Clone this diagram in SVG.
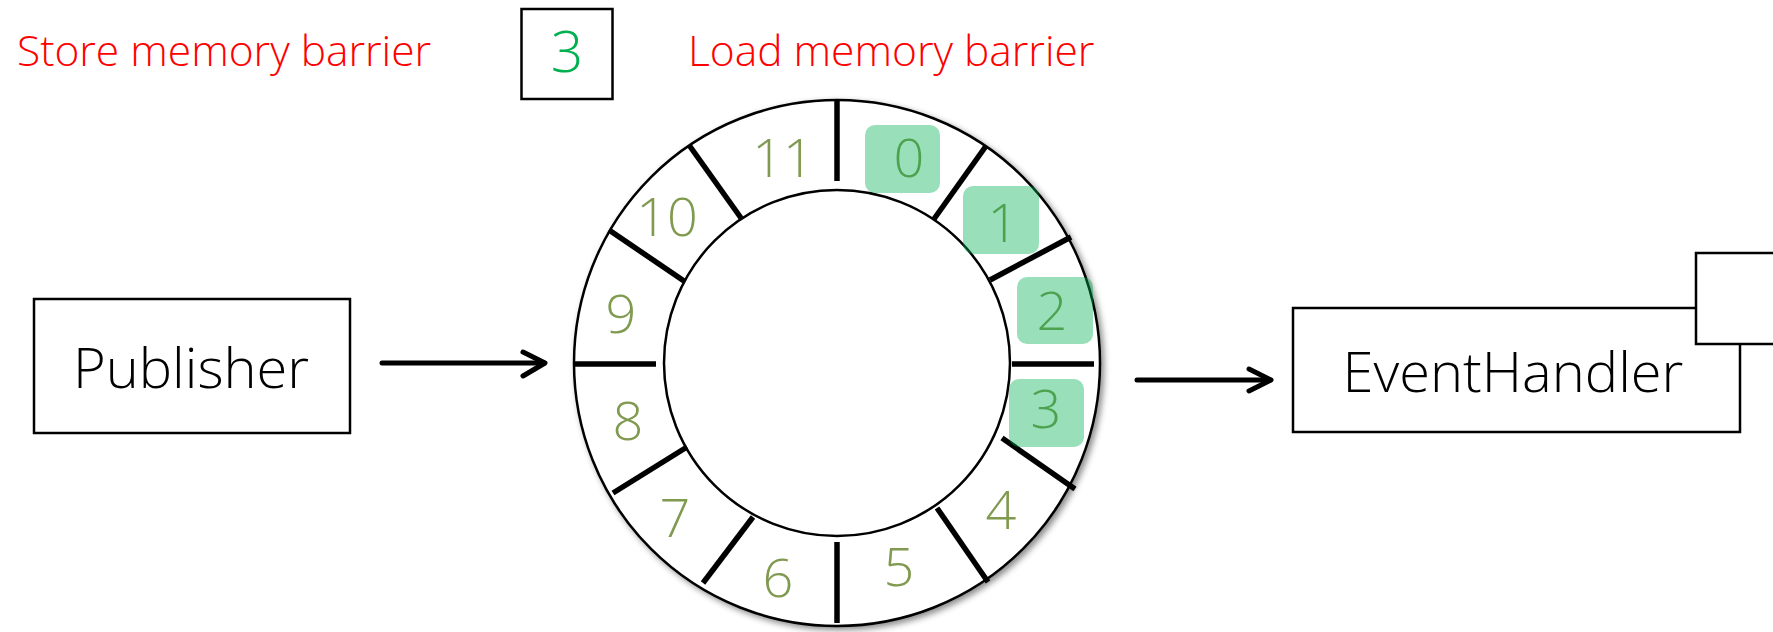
<svg xmlns="http://www.w3.org/2000/svg" width="1773" height="632" viewBox="0 0 1773 632">
  <style>
    .label { font-family: "Open Sans", "Liberation Sans", sans-serif; font-weight: 300; }
    .red { fill: #ff0000; font-size: 42.5px; }
    .box { fill: #ffffff; stroke: #000000; stroke-width: 2.5; }
    .name { font-size: 56px; fill: #000000; text-anchor: middle; }
    .slot { font-size: 54px; fill: #809a4f; text-anchor: middle; }
    .tick { stroke: #000000; stroke-width: 5.5; }
    .mark { fill: #00b050; fill-opacity: 0.4; }
    .arrow { fill: none; stroke: #000000; stroke-width: 5; stroke-linecap: round; stroke-linejoin: round; }
  </style>
  <defs>
    <filter id="ringShadow" x="-10%" y="-10%" width="125%" height="125%">
      <feDropShadow dx="3" dy="3" stdDeviation="3" flood-color="#000000" flood-opacity="0.45"/>
    </filter>
  </defs>

  <rect width="1773" height="632" fill="#ffffff"/>

  <!-- barrier captions -->
  <g id="store-barrier">
    <text class="label red" x="17" y="66">Store memory barrier</text>
  </g>
  <g id="load-barrier">
    <text class="label red" x="688" y="66">Load memory barrier</text>
  </g>

  <!-- sequence value box -->
  <g id="sequence">
    <rect class="box" x="521.5" y="9" width="91" height="90"/>
    <text class="label" x="567" y="72" font-size="57" fill="#00b050" text-anchor="middle">3</text>
  </g>

  <!-- publisher -->
  <g id="publisher">
    <rect class="box" x="34" y="299" width="316" height="134"/>
    <text class="label name" x="191" y="388">Publisher</text>
  </g>

  <!-- ring buffer -->
  <g id="ring-buffer">
    <circle cx="837" cy="363" r="263" fill="#ffffff" stroke="#000000" stroke-width="2.5" filter="url(#ringShadow)"/>
    <circle cx="837" cy="363" r="173" fill="#ffffff" stroke="#000000" stroke-width="2.5"/>
    <g id="slot-dividers">
      <line class="tick" x1="837" y1="99" x2="837" y2="181"/>
      <line class="tick" x1="986" y1="146" x2="934" y2="219"/>
      <line class="tick" x1="1071" y1="237" x2="990" y2="280"/>
      <line class="tick" x1="1012" y1="364" x2="1094" y2="364"/>
      <line class="tick" x1="1002" y1="438" x2="1075" y2="489"/>
      <line class="tick" x1="937" y1="508" x2="988" y2="582"/>
      <line class="tick" x1="837" y1="542" x2="837" y2="623"/>
      <line class="tick" x1="753" y1="517" x2="703" y2="583"/>
      <line class="tick" x1="687" y1="447" x2="613" y2="493"/>
      <line class="tick" x1="574" y1="364" x2="656" y2="364"/>
      <line class="tick" x1="609" y1="230" x2="684" y2="281"/>
      <line class="tick" x1="689" y1="145" x2="741" y2="218"/>
    </g>
    <g id="slot-numbers" class="label">
      <text class="slot" x="909" y="177">0</text>
      <text class="slot" x="1003" y="242">1</text>
      <text class="slot" x="1052" y="330">2</text>
      <text class="slot" x="1046" y="428">3</text>
      <text class="slot" x="1001" y="529">4</text>
      <text class="slot" x="899" y="586">5</text>
      <text class="slot" x="778" y="597">6</text>
      <text class="slot" x="675" y="537">7</text>
      <text class="slot" x="628" y="440">8</text>
      <text class="slot" x="621" y="333">9</text>
      <text class="slot" x="667" y="236">10</text>
      <text class="slot" x="783" y="177">11</text>
    </g>
    <!-- highlighted (published) slots -->
    <g id="published-slots">
      <rect class="mark" x="865" y="125" width="75" height="68" rx="10"/>
      <rect class="mark" x="963" y="186" width="76" height="68" rx="10"/>
      <rect class="mark" x="1017" y="277" width="76" height="67" rx="10"/>
      <rect class="mark" x="1009" y="379" width="75" height="68" rx="10"/>
    </g>
  </g>

  <!-- event handler -->
  <g id="event-handler">
    <rect class="box" x="1293" y="308" width="447" height="124"/>
    <text class="label name" x="1513" y="392">EventHandler</text>
  </g>
  <g id="handler-sequence">
    <rect class="box" x="1696" y="253" width="100" height="91"/>
  </g>

  <!-- connectors -->
  <g id="connectors">
    <line class="arrow" x1="382" y1="363" x2="544" y2="363"/>
    <polyline class="arrow" points="523,352 545,363 523,376"/>
    <line class="arrow" x1="1137" y1="380" x2="1270" y2="380"/>
    <polyline class="arrow" points="1249,369 1271,380 1249,391"/>
  </g>
</svg>
